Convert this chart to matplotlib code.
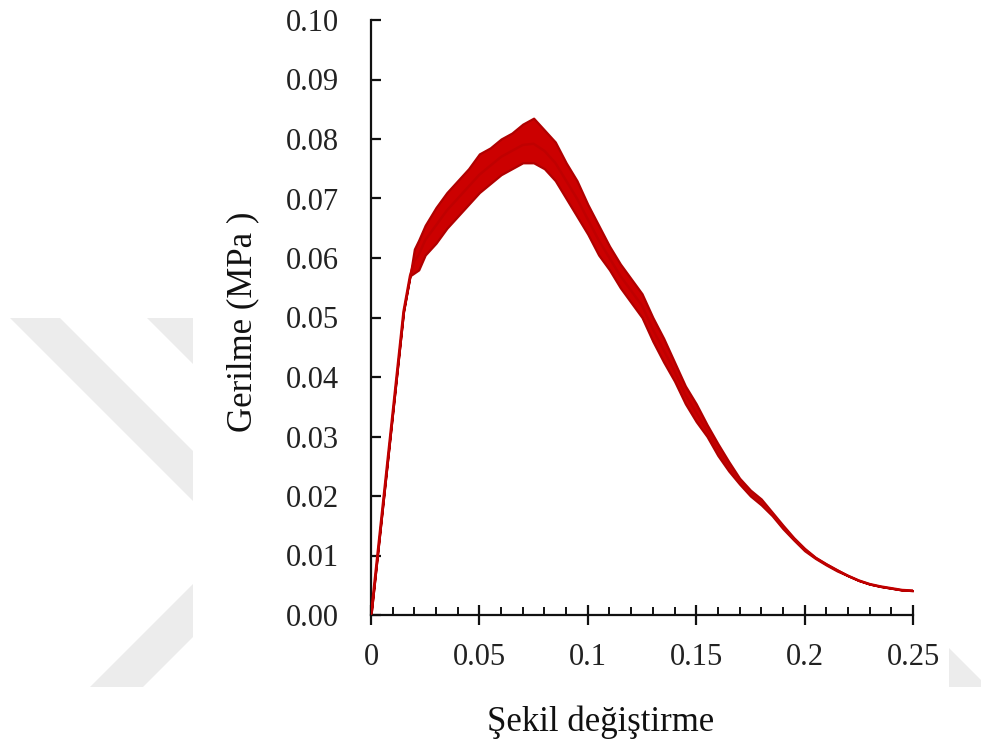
import matplotlib
matplotlib.use("Agg")
import matplotlib.pyplot as plt
from matplotlib.patches import Polygon
from matplotlib.ticker import MultipleLocator, FixedLocator

# ---- data ----
strain = [0, 0.005, 0.01, 0.015, 0.018, 0.02, 0.022, 0.025, 0.03, 0.035, 0.04, 0.045,
          0.05, 0.055, 0.06, 0.065, 0.07, 0.075, 0.08, 0.085, 0.09, 0.095, 0.1, 0.105,
          0.11, 0.115, 0.12, 0.125, 0.13, 0.135, 0.14, 0.145, 0.15, 0.155, 0.16, 0.165,
          0.17, 0.175, 0.18, 0.185, 0.19, 0.195, 0.2, 0.205, 0.21, 0.215, 0.22, 0.225,
          0.23, 0.235, 0.24, 0.245, 0.25]
stress_mid = [0, 0.017, 0.034, 0.051, 0.057, 0.0595, 0.0605, 0.063, 0.0655, 0.068, 0.070,
              0.072, 0.074, 0.0755, 0.077, 0.078, 0.079, 0.0792, 0.078, 0.076, 0.073, 0.070,
              0.0665, 0.063, 0.060, 0.057, 0.0545, 0.052, 0.048, 0.0445, 0.041, 0.037, 0.034,
              0.031, 0.0278, 0.025, 0.0225, 0.0205, 0.019, 0.017, 0.0148, 0.0128, 0.011,
              0.0096, 0.0085, 0.0075, 0.0066, 0.0058, 0.0052, 0.0048, 0.0045, 0.0042, 0.0041]
stress_upper = [0, 0.017, 0.034, 0.051, 0.057, 0.0615, 0.063, 0.0655, 0.0685, 0.071, 0.073,
                0.075, 0.0775, 0.0785, 0.080, 0.081, 0.0825, 0.0835, 0.0815, 0.0795, 0.076,
                0.073, 0.069, 0.0655, 0.062, 0.059, 0.0565, 0.054, 0.050, 0.0465, 0.0425,
                0.0385, 0.0355, 0.032, 0.0288, 0.0258, 0.023, 0.021, 0.0195, 0.0173, 0.0151,
                0.013, 0.0112, 0.0097, 0.0086, 0.0076, 0.0066, 0.0058, 0.0052, 0.0048, 0.0045,
                0.0042, 0.0041]
stress_lower = [0, 0.017, 0.034, 0.051, 0.057, 0.0575, 0.058, 0.0605, 0.0625, 0.065, 0.067,
                0.069, 0.071, 0.0725, 0.074, 0.075, 0.076, 0.076, 0.075, 0.073, 0.070,
                0.067, 0.064, 0.0605, 0.058, 0.055, 0.0525, 0.050, 0.046, 0.0425, 0.0393,
                0.0355, 0.0325, 0.030, 0.0268, 0.0242, 0.022, 0.0200, 0.0185, 0.0167, 0.0145,
                0.0126, 0.0108, 0.0095, 0.0084, 0.0074, 0.0066, 0.0058, 0.0052, 0.0048, 0.0045,
                0.0042, 0.0041]

x_ticks = [0, 0.05, 0.1, 0.15, 0.2, 0.25]
x_tick_labels = ["0", "0.05", "0.1", "0.15", "0.2", "0.25"]
y_ticks = [0.00, 0.01, 0.02, 0.03, 0.04, 0.05, 0.06, 0.07, 0.08, 0.09, 0.10]
y_tick_labels = ["0.00", "0.01", "0.02", "0.03", "0.04", "0.05", "0.06", "0.07", "0.08", "0.09", "0.10"]
x_label = "Şekil değiştirme"
y_label = "Gerilme (MPa )"

# ---- figure ----
W, H = 981, 747
plt.rcParams['font.family'] = ['Liberation Serif', 'DejaVu Serif']
fig = plt.figure(figsize=(W / 100, H / 100), dpi=100)

# faint watermark shapes (figure pixel coordinates, decoration only)
wm = "#ececec"
def px(points):
    return [(x / W, 1 - y / H) for x, y in points]
for pts in ([(10, 318), (60, 318), (193, 451), (193, 501)],
            [(147, 318), (193, 318), (193, 364)],
            [(90, 687), (143, 687), (193, 637), (193, 584)],
            [(949, 648), (981, 680), (981, 687), (949, 687)]):
    fig.patches.append(Polygon(px(pts), closed=True, transform=fig.transFigure,
                               facecolor=wm, edgecolor="none", zorder=0))

ax = fig.add_axes([371 / W, 1 - 615 / H, 542 / W, 595 / H])
ax.patch.set_alpha(0)

ax.fill_between(strain, stress_lower, stress_upper, color="#cc0000",
                edgecolor="#b00000", linewidth=1.6, zorder=2)
ax.plot(strain, stress_mid, color="#c00000", linewidth=1.8, zorder=3)

ax.set_xlim(0, 0.25)
ax.set_ylim(0, 0.10)

for s in ("top", "right"):
    ax.spines[s].set_visible(False)
for s in ("left", "bottom"):
    ax.spines[s].set_linewidth(1.6)
    ax.spines[s].set_color("#111111")

ax.xaxis.set_major_locator(FixedLocator(x_ticks))
ax.set_xticklabels(x_tick_labels)
ax.xaxis.set_minor_locator(MultipleLocator(0.01))
ax.yaxis.set_major_locator(FixedLocator(y_ticks))
ax.set_yticklabels(y_tick_labels)

ax.tick_params(axis="x", which="major", direction="inout", length=14, width=1.6,
               labelsize=22, pad=13, colors="#111111")
ax.tick_params(axis="x", which="minor", direction="in", length=6, width=1.4,
               colors="#111111")
ax.tick_params(axis="y", which="major", direction="in", length=7, width=1.6,
               labelsize=22, pad=23, colors="#111111")
for lab in ax.get_xticklabels() + ax.get_yticklabels():
    lab.set_color("#222222")

fig.text(601 / W, 1 - 722 / H, x_label, fontsize=25, ha="center", va="center",
         color="#111111")
fig.text(243 / W, 1 - 322 / H, y_label, fontsize=25, ha="center", va="center",
         rotation=90, color="#111111")

fig.savefig("out.png", dpi=100)
